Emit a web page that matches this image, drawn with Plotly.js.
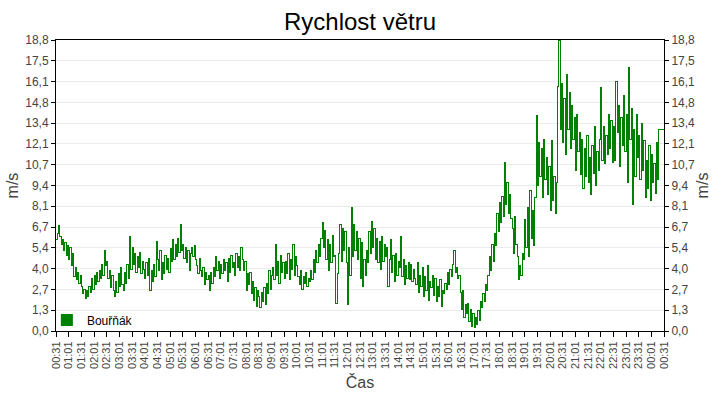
<!DOCTYPE html>
<html>
<head>
<meta charset="utf-8">
<script src="https://cdn.plot.ly/plotly-3.0.1.min.js"></script>
<style>
  html, body { margin: 0; padding: 0; background: #fff; }
  #chart { width: 720px; height: 400px; }
  /* ostré čáry jako v originálu */
  #chart .scatterlayer .js-line { shape-rendering: crispEdges; }
</style>
</head>
<body>
<div id="chart"></div>
<script>
// Rychlost větru – stanice Bouřňák, hodnoty po 3 minutách od 00:31 do 00:31 dalšího dne
const seriesName = 'Bouřňák';
const startMinute = 31;     // 00:31
const stepMinutes = 3;

const windSpeed = [
    // 00:31
    5.9, 6.3, 6.8, 6.1, 5.6, 5.9, 5.2, 5.7, 4.9, 5.5, 4.6, 5.4, 4.2, 5.0, 3.5, 4.1, 3.3, 3.8, 3.1, 3.6,
    // 01:31
    2.9, 2.4, 2.7, 2.1, 2.6, 2.2, 2.9, 2.5, 3.4, 2.7, 3.6, 3.0, 3.8, 3.2, 3.9, 3.4, 4.3, 3.6, 5.2, 4.2,
    // 02:31
    4.5, 3.4, 3.9, 2.8, 3.6, 2.6, 2.2, 3.2, 2.5, 3.7, 2.9, 4.1, 3.0, 2.6, 3.8, 3.1, 4.3, 3.4, 6.1, 4.0,
    // 03:31
    5.4, 4.3, 5.0, 3.8, 4.8, 4.1, 5.1, 3.7, 4.5, 4.0, 3.4, 4.4, 3.6, 4.7, 2.6, 3.9, 3.2, 4.3, 3.5, 5.8,
    // 04:31
    4.6, 3.9, 5.2, 3.3, 4.4, 3.7, 4.9, 4.0, 4.7, 3.8, 5.3, 4.5, 5.9, 4.6, 5.6, 4.8, 6.0, 5.1, 6.9, 5.2,
    // 05:31
    5.6, 4.7, 5.4, 4.4, 5.2, 3.9, 5.0, 5.4, 4.8, 5.5, 4.6, 4.2, 3.7, 4.7, 3.9, 3.5, 4.1, 3.0, 3.8, 3.3,
    // 06:31
    3.6, 2.6, 3.8, 3.1, 4.1, 3.5, 4.8, 3.9, 4.5, 3.4, 4.3, 3.7, 4.6, 3.9, 4.4, 3.2, 4.7, 3.8, 4.9, 4.1,
    // 07:31
    4.4, 3.6, 5.0, 4.1, 4.8, 3.9, 5.4, 4.6, 3.9, 4.5, 2.6, 3.7, 3.0, 3.8, 2.4, 3.2, 2.0, 2.8, 1.6, 2.6,
    // 08:31
    2.2, 1.5, 2.5, 1.9, 2.8, 1.7, 3.1, 2.4, 3.9, 2.7, 3.6, 4.1, 3.3, 5.6, 3.6, 4.5, 3.1, 4.9, 3.8, 4.4,
    // 09:31
    3.4, 4.5, 3.7, 5.0, 3.3, 4.6, 4.0, 5.6, 3.6, 4.8, 4.2, 3.5, 3.0, 3.9, 2.7, 3.5, 3.1, 3.8, 2.9, 3.4,
    // 10:31
    3.2, 3.9, 3.3, 4.6, 3.8, 5.2, 4.4, 5.6, 4.8, 6.0, 7.0, 5.4, 6.5, 4.6, 5.9, 3.9, 5.6, 4.4, 6.2, 4.8,
    // 11:31
    4.9, 1.8, 3.7, 5.0, 6.9, 4.5, 6.6, 5.2, 6.4, 4.4, 1.7, 5.4, 3.6, 8.0, 4.8, 6.9, 5.2, 6.4, 4.6, 6.0,
    // 12:31
    3.4, 5.7, 2.9, 4.6, 3.6, 5.2, 4.4, 6.4, 5.0, 7.1, 5.4, 6.6, 4.6, 6.0, 4.4, 5.8, 4.0, 6.1, 4.5, 5.6,
    // 13:31
    4.8, 5.4, 2.9, 4.6, 5.9, 3.8, 4.9, 3.2, 5.0, 3.6, 4.5, 4.1, 6.1, 3.5, 4.6, 3.0, 4.2, 3.4, 4.4, 3.3,
    // 14:31
    4.3, 3.2, 4.0, 3.4, 3.0, 4.4, 2.5, 3.6, 2.9, 4.1, 2.2, 3.5, 2.6, 4.2, 2.0, 3.2, 2.8, 3.6, 2.3, 3.4,
    // 15:31
    1.9, 2.9, 2.2, 3.3, 1.6, 2.6, 2.4, 3.1, 2.7, 3.8, 3.0, 4.0, 3.5, 4.3, 5.2, 3.8, 4.1, 3.4, 3.6, 2.5,
    // 16:31
    1.4, 2.6, 0.9, 1.7, 1.1, 1.8, 0.6, 1.4, 0.3, 1.1, 0.2, 0.9, 0.4, 1.3, 0.7, 1.9, 1.5, 2.4, 1.9, 3.0,
    // 17:31
    2.6, 3.6, 4.8, 3.9, 5.6, 4.5, 6.3, 5.5, 7.6, 6.4, 8.3, 7.0, 8.7, 7.4, 10.9, 8.2, 9.6, 7.6, 8.8, 7.3,
    // 18:31
    6.6, 5.0, 7.4, 5.6, 4.8, 3.3, 4.2, 3.6, 5.0, 4.6, 7.2, 5.4, 8.0, 4.8, 9.1, 6.0, 7.8, 5.5, 8.6, 13.9,
    // 19:31
    9.4, 12.2, 10.0, 11.8, 8.6, 12.4, 9.8, 11.2, 8.8, 10.6, 7.8, 12.3, 8.4, 10.0, 7.6, 9.6, 15.8, 18.8, 13.0, 16.0,
    // 20:31
    12.2, 15.0, 11.4, 16.6, 13.0, 15.4, 11.8, 14.6, 12.4, 13.8, 10.4, 14.0, 11.6, 12.8, 10.1, 12.4, 9.2, 11.8, 10.0, 12.6,
    // 21:31
    9.6, 11.2, 8.8, 12.0, 10.2, 13.2, 9.4, 11.6, 10.4, 12.4, 15.7, 11.0, 13.2, 10.8, 12.6, 11.4, 14.0, 11.8, 13.6, 10.9,
    // 22:31
    13.2, 11.0, 16.1, 12.8, 14.6, 10.6, 13.8, 12.0, 15.2, 11.6, 14.0, 9.6, 17.0, 12.4, 14.4, 8.2, 13.0, 10.0, 14.0, 11.2,
    // 23:31
    12.6, 9.8, 13.4, 10.4, 12.3, 8.6, 11.0, 9.2, 12.0, 8.4, 11.4, 9.6, 10.8, 8.9, 12.2, 9.8, 13.0, 13.0, 13.0, 13.0,
    // 00:31
    13.0
];

const yTickText = ['0,0', '1,3', '2,7', '4,0', '5,4', '6,7', '8,1', '9,4',
                   '10,7', '12,1', '13,4', '14,8', '16,1', '17,5', '18,8'];
const yMax = 18.8;

const lineColor = '#008000';
const textColor = '#444444';
const gridColor = '#ebebeb';
const fontFamily = '"Liberation Sans", Arial, sans-serif';

// helper: minute index -> date string
function minuteToDate(m) {
    const day = 1 + Math.floor(m / 1440);
    const rest = m % 1440;
    const h = Math.floor(rest / 60);
    const mm = rest % 60;
    const pad = n => String(n).padStart(2, '0');
    return `2024-01-${pad(day)} ${pad(h)}:${pad(mm)}`;
}

const times = windSpeed.map((v, i) => minuteToDate(startMinute + i * stepMinutes));
const xStart = minuteToDate(startMinute);
const xEnd = minuteToDate(startMinute + 1440);
const yTickVals = yTickText.map((t, i) => i * yMax / (yTickText.length - 1));

const traceWind = {
    x: times,
    y: windSpeed,
    type: 'scatter',
    mode: 'lines',
    line: { color: lineColor, width: 1, shape: 'hv' },
    showlegend: false,
    hoverinfo: 'x+y'
};

// same series on the right axis, invisible, only so that the axis is drawn
const traceRight = { ...traceWind, yaxis: 'y2', opacity: 0, hoverinfo: 'skip' };

// legend-only marker (square like in the original)
const traceLegend = {
    x: [null],
    y: [null],
    type: 'scatter',
    mode: 'markers',
    name: seriesName,
    marker: { color: lineColor, symbol: 'square', size: 12 }
};

const yAxisBase = {
    range: [0, yMax],
    tickmode: 'array',
    tickvals: yTickVals,
    ticktext: yTickText,
    ticks: 'outside',
    ticklen: 4,
    tickcolor: '#000',
    tickfont: { family: fontFamily, size: 12, color: textColor },
    title: { text: 'm/s', font: { family: fontFamily, size: 16, color: textColor }, standoff: 2 },
    fixedrange: true
};

const layout = {
    width: 720,
    height: 400,
    paper_bgcolor: '#ffffff',
    plot_bgcolor: '#ffffff',
    font: { family: fontFamily, color: textColor },
    margin: { t: 40, b: 69, l: 56, r: 56 },
    title: {
        text: 'Rychlost větru',
        font: { family: fontFamily, size: 24, color: '#000' },
        x: 0.5, xanchor: 'center',
        y: 0.945, yref: 'container', yanchor: 'middle'
    },
    showlegend: true,
    legend: {
        x: -0.015, y: -0.012, xanchor: 'left', yanchor: 'bottom',
        bgcolor: 'rgba(0,0,0,0)',
        font: { family: fontFamily, size: 12, color: '#000' },
        itemwidth: 30
    },
    xaxis: {
        type: 'date',
        range: [xStart, xEnd],
        tick0: xStart,
        dtick: 30 * 60 * 1000,
        tickformat: '%H:%M',
        tickangle: -90,
        ticks: 'outside',
        ticklen: 5,
        tickcolor: '#000',
        tickfont: { family: fontFamily, size: 11, color: textColor },
        showgrid: false,
        showline: true,
        linecolor: '#000',
        linewidth: 1,
        mirror: true,
        zeroline: false,
        title: { text: 'Čas', font: { family: fontFamily, size: 16, color: textColor }, standoff: 8 },
        fixedrange: true
    },
    yaxis: {
        ...yAxisBase,
        showgrid: true,
        gridcolor: gridColor,
        showline: true,
        linecolor: '#000',
        linewidth: 1,
        mirror: true,
        zeroline: false
    },
    yaxis2: {
        ...yAxisBase,
        overlaying: 'y',
        side: 'right',
        showgrid: false,
        showline: false,
        zeroline: false
    }
};

Plotly.newPlot('chart', [traceWind, traceRight, traceLegend], layout, { staticPlot: true });
</script>
</body>
</html>
